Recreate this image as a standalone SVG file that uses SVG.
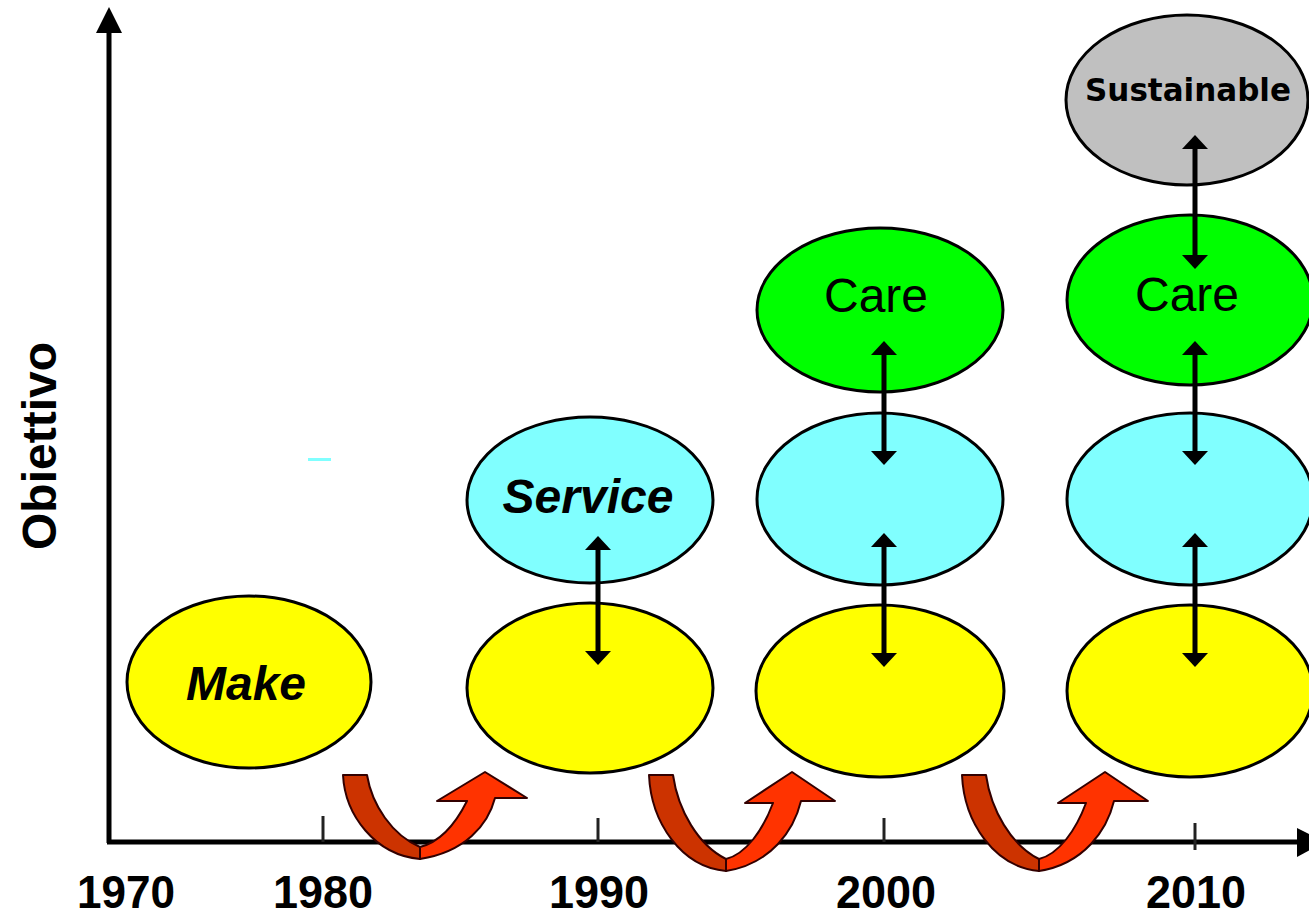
<svg xmlns="http://www.w3.org/2000/svg" width="1309" height="917" viewBox="0 0 1309 917">
<style>
.ell{stroke:#000;stroke-width:3}
.y{fill:#FFFF00}
.c{fill:#80FFFF}
.g{fill:#00FF00}
.s{fill:#C0C0C0}
.lbl{font-family:"Liberation Sans",Arial,sans-serif;font-size:48px;text-anchor:middle;fill:#000}
.sus{font-family:"DejaVu Sans",Verdana,sans-serif;font-size:32px;font-weight:bold;text-anchor:middle;fill:#000}
.yr{font-family:"Liberation Sans",Arial,sans-serif;font-size:46px;font-weight:bold;text-anchor:middle;fill:#000}
.dbl{stroke:#000;stroke-width:5;marker-start:url(#ah);marker-end:url(#ah)}
.axis{stroke:#000;stroke-width:5}
.tick{stroke:#222;stroke-width:3}
.rd{fill:#CC3300;stroke:#330000;stroke-width:2;stroke-linejoin:round}
.rb{fill:#FF3300;stroke:#330000;stroke-width:2;stroke-linejoin:round}
</style>
<defs>
<marker id="ah" viewBox="0 0 14 26" refX="1" refY="13" markerWidth="14" markerHeight="26" markerUnits="userSpaceOnUse" orient="auto-start-reverse">
<path d="M0,0 L14,13 L0,26 Z" fill="#000"/>
</marker>
</defs>
<rect width="1309" height="917" fill="#fff"/>

<g id="axes">
<line class="axis" x1="109" y1="30" x2="109" y2="843"/>
<polygon points="96,33 109,7 122,33" fill="#000"/>
<line class="axis" x1="107" y1="842" x2="1300" y2="842"/>
<polygon points="1297,828 1325,842 1297,857" fill="#000"/>
<line class="tick" x1="323" y1="816" x2="323" y2="842"/>
<line class="tick" x1="598" y1="818" x2="598" y2="842"/>
<line class="tick" x1="884" y1="818" x2="884" y2="842"/>
<line class="tick" x1="1195" y1="823" x2="1195" y2="850"/>
<text class="yr" x="126" y="908" textLength="98" lengthAdjust="spacingAndGlyphs">1970</text>
<text class="yr" x="323" y="908" textLength="100" lengthAdjust="spacingAndGlyphs">1980</text>
<text class="yr" x="599" y="908" textLength="100" lengthAdjust="spacingAndGlyphs">1990</text>
<text class="yr" x="886" y="908" textLength="100" lengthAdjust="spacingAndGlyphs">2000</text>
<text class="yr" x="1196" y="908" textLength="100" lengthAdjust="spacingAndGlyphs">2010</text>
<text class="lbl" font-weight="bold" transform="translate(56,446) rotate(-90)" textLength="208" lengthAdjust="spacingAndGlyphs" font-size="46">Obiettivo</text>
<rect x="308" y="458" width="23" height="3" fill="#80FFFF"/>
</g>

<g id="make"><ellipse class="ell y" cx="249" cy="682" rx="122" ry="86"/><text class="lbl" x="246" y="700" font-weight="bold" font-style="italic">Make</text></g>

<g id="y1990"><ellipse class="ell y" cx="590" cy="688" rx="123" ry="85"/></g>
<g id="service"><ellipse class="ell c" cx="590" cy="500" rx="123" ry="83"/><text class="lbl" x="588" y="513" font-weight="bold" font-style="italic">Service</text></g>

<g id="y2000"><ellipse class="ell y" cx="880" cy="691" rx="124" ry="86"/></g>
<g id="c2000"><ellipse class="ell c" cx="880" cy="499" rx="123" ry="86"/></g>
<g id="care2000"><ellipse class="ell g" cx="880" cy="310" rx="123" ry="82"/><text class="lbl" x="876" y="312">Care</text></g>

<g id="y2010"><ellipse class="ell y" cx="1190" cy="691" rx="123" ry="86"/></g>
<g id="c2010"><ellipse class="ell c" cx="1190" cy="499" rx="123" ry="86"/></g>
<g id="care2010"><ellipse class="ell g" cx="1190" cy="300" rx="123" ry="85"/><text class="lbl" x="1187" y="311">Care</text></g>
<g id="sustainable"><ellipse class="ell s" cx="1187" cy="100" rx="121" ry="85"/><text class="sus" x="1188" y="101" textLength="206" lengthAdjust="spacingAndGlyphs">Sustainable</text></g>

<g id="connectors">
<line class="dbl" x1="598" y1="549" x2="598" y2="652"/>
<line class="dbl" x1="884" y1="354" x2="884" y2="452"/>
<line class="dbl" x1="884" y1="546" x2="884" y2="654"/>
<line class="dbl" x1="1195" y1="148" x2="1195" y2="256"/>
<line class="dbl" x1="1195" y1="354" x2="1195" y2="452"/>
<line class="dbl" x1="1195" y1="546" x2="1195" y2="654"/>
</g>

<g id="shifts">
<path class="rd" d="M343,775 L367,775 C372,805 392,835 420,847 L420,859 C375,855 345,815 343,775 Z"/>
<path class="rb" d="M420,847 C440,842 455,825 467,801 L437,801 L485,772 L527,798 L495,798 C488,825 465,852 420,859 Z"/>
<path class="rd" d="M649,775 L673,775 C678,810 698,845 726,859 L726,871 C681,867 651,822 649,775 Z"/>
<path class="rb" d="M726,859 C746,854 763,830 773,803 L745,803 L792,772 L835,801 L801,801 C794,830 771,864 726,871 Z"/>
<path class="rd" d="M962,775 L986,775 C991,810 1011,845 1039,859 L1039,871 C994,867 964,822 962,775 Z"/>
<path class="rb" d="M1039,859 C1059,854 1076,830 1086,803 L1058,803 L1105,772 L1148,801 L1114,801 C1107,830 1084,864 1039,871 Z"/>
</g>
</svg>
